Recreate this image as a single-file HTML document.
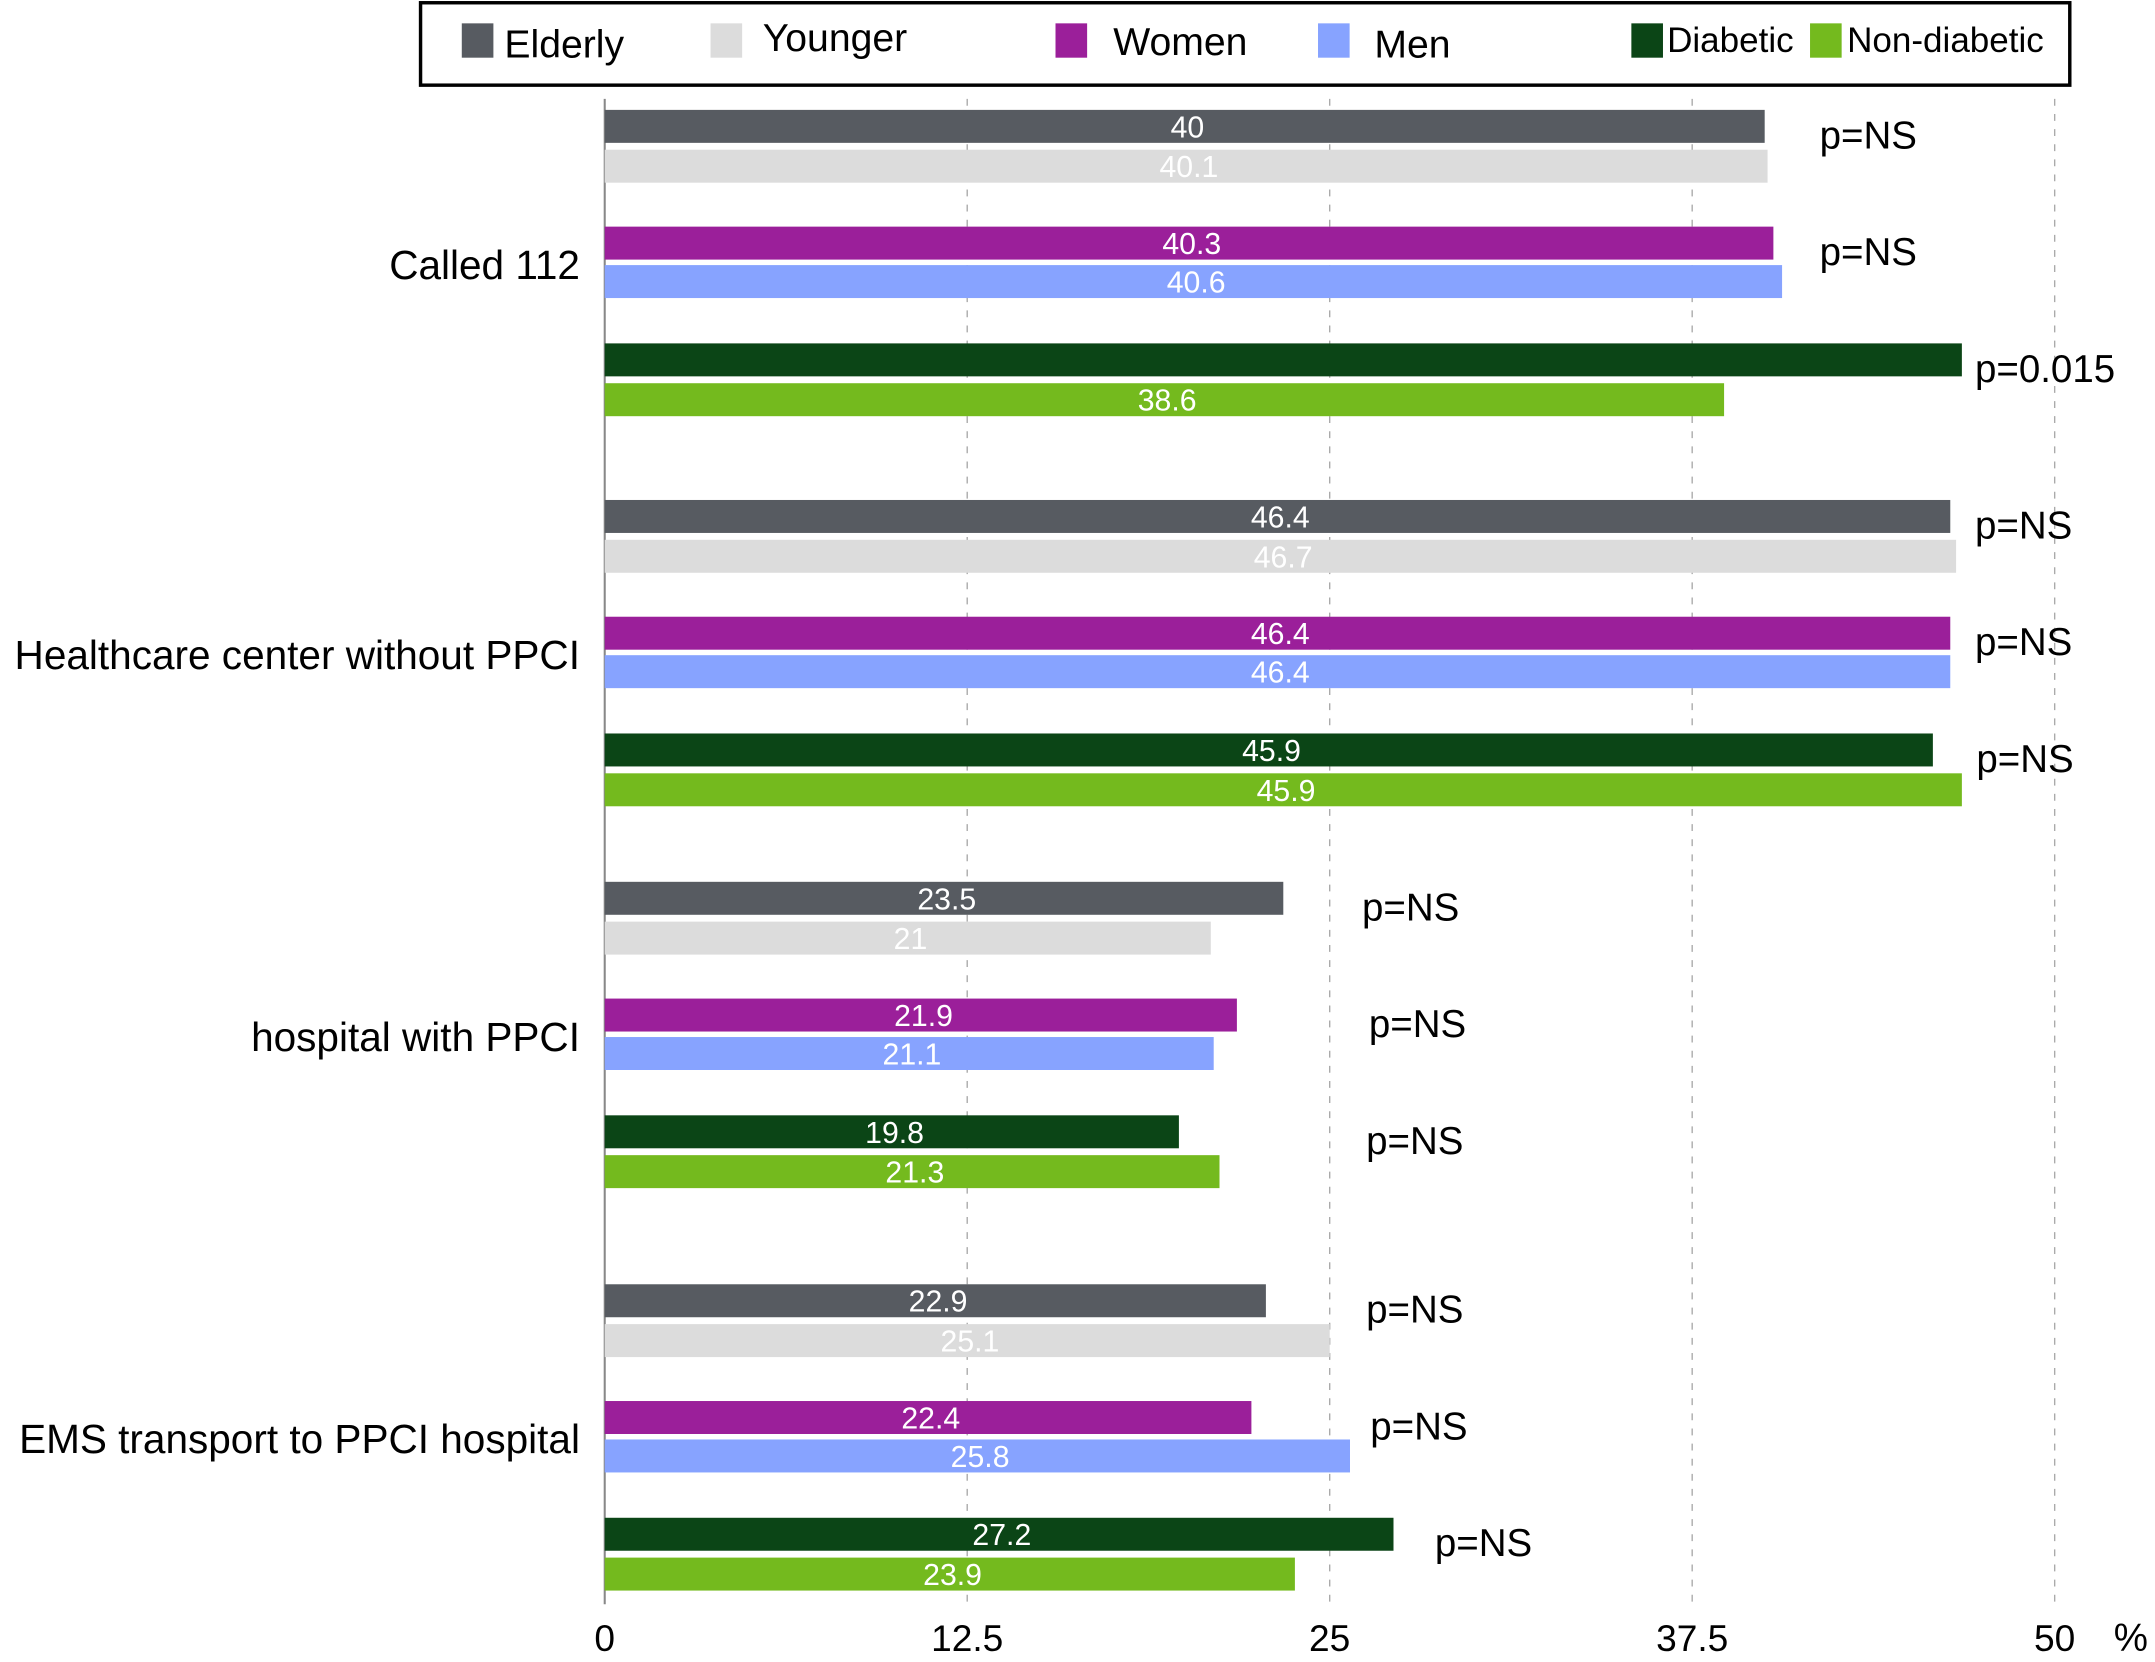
<!DOCTYPE html>
<html><head><meta charset="utf-8"><style>
html,body{margin:0;padding:0;background:#fff;}
svg{display:block;font-family:"Liberation Sans",Arial,sans-serif;}
</style></head><body>
<svg id="chart" width="2155" height="1662" viewBox="0 0 1568 1210" preserveAspectRatio="none" xmlns="http://www.w3.org/2000/svg">
<g id="legend">
<rect x="306" y="2" width="1200" height="60" fill="#fff" stroke="#000" stroke-width="2.5"/>
</g>
<g id="grid"></g><g id="bars"></g><g id="labels"></g>
</svg>
<script>
const categories=["Called 112","Healthcare center without PPCI","hospital with PPCI","EMS transport to PPCI hospital"];
const seriesNames=["Elderly","Younger","Women","Men","Diabetic","Non-diabetic"];
const seriesColors=["#575b61","#dcdcdc","#9b1f9a","#87a3ff","#0b4516","#74ba1e"];
const elderly=[40,46.4,23.4,22.8];
const younger=[40.1,46.6,20.9,25.0];
const women=[40.3,46.4,21.8,22.3];
const men=[40.6,46.4,21.0,25.7];
const diabetic=[46.8,45.8,19.8,27.2];
const nondiabetic=[38.6,46.8,21.2,23.8];
const elderlyLbl=["40","46.4","23.5","22.9"];
const youngerLbl=["40.1","46.7","21","25.1"];
const womenLbl=["40.3","46.4","21.9","22.4"];
const menLbl=["40.6","46.4","21.1","25.8"];
const diabeticLbl=["","45.9","19.8","27.2"];
const nondiabeticLbl=["38.6","45.9","21.3","23.9"];
const pValues=[["p=NS","p=NS","p=0.015"],["p=NS","p=NS","p=NS"],["p=NS","p=NS","p=NS"],["p=NS","p=NS","p=NS"]];
const ticks=[0,12.5,25,37.5,50];
const tickLabels=["0","12.5","25","37.5","50"];

const NS="http://www.w3.org/2000/svg";
const x0=440,x1=1495,xMax=50;
const xs=v=>x0+(v/xMax)*(x1-x0);
const groupTop=[80,364,642,935];
const offs=[0,29,85,113,170,199];
const barH=24;
const pX=[[1324,1324,1437],[1437,1437,1438],[991,996,994],[994,997,1044]];
const pDY=[[28,16],[26,18],[26,14]];
function el(tag,attrs,parent){const e=document.createElementNS(NS,tag);for(const k in attrs)e.setAttribute(k,attrs[k]);parent.appendChild(e);return e;}
const grid=document.getElementById('grid'),bars=document.getElementById('bars'),labels=document.getElementById('labels'),legend=document.getElementById('legend');
ticks.forEach((t,i)=>{
  if(i>0){const g=el('line',{x1:xs(t),x2:xs(t),y1:72,y2:1168,stroke:'#aaa','stroke-width':1,'stroke-dasharray':'5,6'},grid);
  
  }
  const tx=el('text',{x:xs(t),y:1202,'text-anchor':'middle','font-size':27,fill:'#000'},labels);
  tx.textContent=tickLabels[i];
  
  
});
const ax=el('line',{x1:x0,x2:x0,y1:72,y2:1168,stroke:'#888','stroke-width':1.5},grid);


const unit=el('text',{x:1538,y:1202,'font-size':28,fill:'#000'},labels);unit.textContent='%';


const series=[elderly,younger,women,men,diabetic,nondiabetic];
const lbls=[elderlyLbl,youngerLbl,womenLbl,menLbl,diabeticLbl,nondiabeticLbl];
categories.forEach((c,ci)=>{
  const gt=groupTop[ci];
  const ct=el('text',{x:422,y:gt+123,'text-anchor':'end','font-size':29.5,fill:'#000'},labels);
  ct.textContent=c;
  
  
  series.forEach((s,si)=>{
    const y=gt+offs[si];
    const r=el('rect',{x:x0,y:y,width:xs(s[ci])-x0,height:barH,fill:seriesColors[si]},bars);
    
    
    if(lbls[si][ci]){const t=el('text',{x:(x0+xs(s[ci]))/2+2,y:y+20,'text-anchor':'middle','font-size':22,fill:'#fff'},labels);
    t.textContent=lbls[si][ci];
    
    }
  });
  pValues[ci].forEach((p,pi)=>{
    const y=gt+offs[pi*2]+28;
    const t=el('text',{x:pX[ci][pi],y:y,'font-size':28,fill:'#000'},labels);
    t.textContent=p;
    
    
  });
});
const legX=[336,517,768,959,1187,1317];
const legTX=[367,555,810,1000,1213,1344];
const legTY=[42,37,40,42,38,38];
const legFS=[28.5,28.5,28.5,28.5,25.5,25.5];
seriesNames.forEach((n,i)=>{
  const r=el('rect',{x:legX[i],y:17,width:23,height:25,fill:seriesColors[i]},legend);
  
  
  const t=el('text',{x:legTX[i],y:legTY[i],'font-size':legFS[i],fill:'#000'},legend);
  t.textContent=n;
  
  
});
</script>
</body></html>
